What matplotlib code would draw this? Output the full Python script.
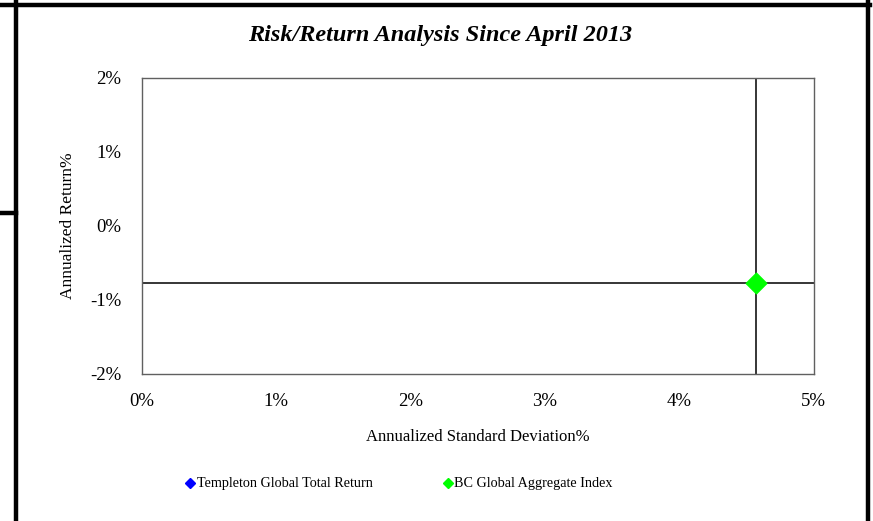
import matplotlib
matplotlib.use("Agg")
import matplotlib.pyplot as plt
from matplotlib.lines import Line2D
from matplotlib.ticker import FuncFormatter

plt.rcParams['font.family'] = ['Liberation Serif', 'DejaVu Serif']

# annualized risk / return (%)
series = ["Templeton Global Total Return", "BC Global Aggregate Index"]
colors = ["#0000ff", "#00ff00"]
std_dev = [[], [4.57]]
returns = [[], [-0.78]]

x_ticks = [0, 1, 2, 3, 4, 5]
y_ticks = [-2, -1, 0, 1, 2]

fig = plt.figure(figsize=(8.73, 5.21), dpi=100)
ax = fig.add_axes([141.5 / 873, 1 - 373.5 / 521, 672 / 873, 295.5 / 521])

# crosshair through the index point
ax.axvline(std_dev[1][0], color="black", lw=1.1, zorder=1)
ax.axhline(returns[1][0], color="black", lw=1.1, zorder=1)

for name, c, xs, ys in zip(series, colors, std_dev, returns):
    ax.scatter(xs, ys, marker="D", s=110, color=c, zorder=3, label=name)

ax.set_xlim(0, 5)
ax.set_ylim(-2, 2)
ax.set_xticks(x_ticks)
ax.set_yticks(y_ticks)
pct = FuncFormatter(lambda v, _: f"{v:.0f}%")
ax.xaxis.set_major_formatter(pct)
ax.yaxis.set_major_formatter(pct)
ax.tick_params(length=0, labelsize=13.5)
ax.tick_params(axis="x", pad=14)
ax.tick_params(axis="y", pad=14.5)
for s in ax.spines.values():
    s.set_color("#606060")
    s.set_linewidth(1.0)

ax.set_xlabel("Annualized Standard Deviation%", fontsize=12, labelpad=14)
ax.set_ylabel("Annualized Return%", fontsize=12.5, labelpad=10)
fig.text(0.504, 1 - 35 / 521, "Risk/Return Analysis Since April 2013",
         ha="center", va="center", fontsize=17.5, fontweight="bold", style="italic")

handles = [Line2D([], [], marker="D", color=c, ls="none", markersize=5) for c in colors]
fig.legend(handles, series, loc="center left", bbox_to_anchor=(186 / 873, 1 - 484 / 521),
           ncol=2, frameon=False, fontsize=10.2, handlelength=0.6, handletextpad=0.15,
           columnspacing=5.0, borderpad=0, borderaxespad=0)

# outer frame
frame = dict(color="black", lw=3.2, transform=fig.transFigure, clip_on=False)
fig.add_artist(Line2D([0, 869.5 / 873], [1 - 4.5 / 521] * 2, **frame))
fig.add_artist(Line2D([15.5 / 873] * 2, [1 - 520 / 521, 1], **frame))
fig.add_artist(Line2D([868 / 873] * 2, [1 - 520 / 521, 1], **frame))
fig.add_artist(Line2D([0, 15.5 / 873], [1 - 213.5 / 521] * 2, **frame))

fig.savefig("out.png", dpi=100)
